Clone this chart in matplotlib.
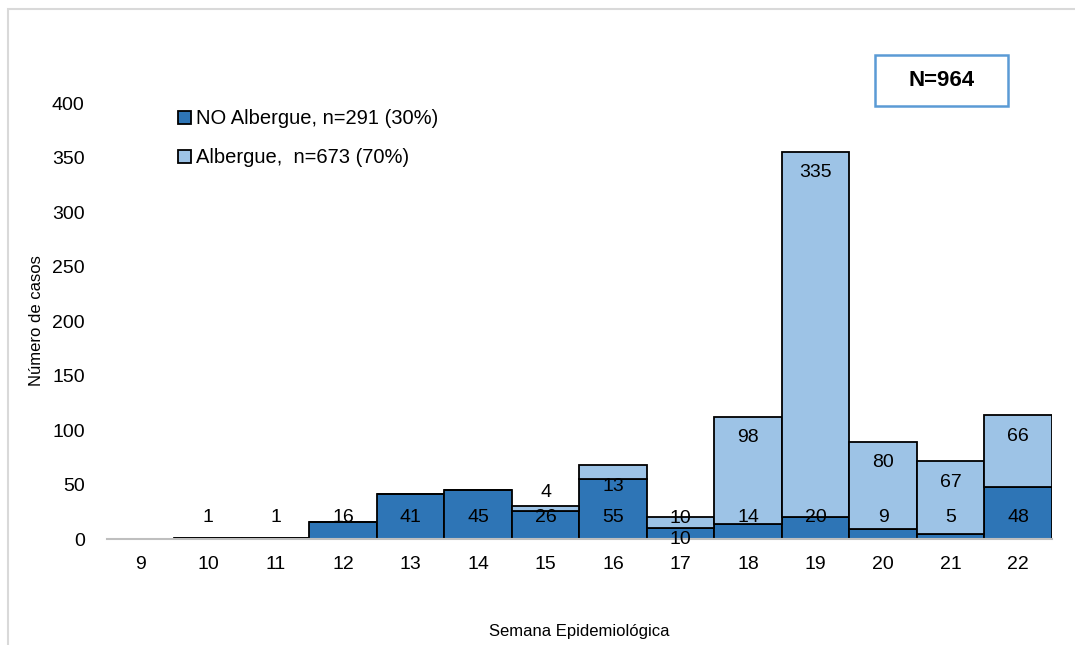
import numpy as np
import matplotlib
matplotlib.use('Agg')
import matplotlib.pyplot as plt
from matplotlib.patches import Rectangle

plt.rcParams['font.family'] = ['Liberation Sans', 'DejaVu Sans']

# datos por semana epidemiológica
semanas = ['9', '10', '11', '12', '13', '14', '15', '16', '17', '18', '19', '20', '21', '22']
no_albergue = [0, 1, 1, 16, 41, 45, 26, 55, 10, 14, 20, 9, 5, 48]
albergue = [0, 0, 0, 0, 0, 0, 4, 13, 10, 98, 335, 80, 67, 66]

# posición (en casos) de cada etiqueta, como en el original
pos_no_alb = [None, 20, 20, 20, 20, 20, 20, 20, 0, 20, 20, 20, 20, 20]
pos_alb = [None, None, None, None, None, None, 43, 48, 19, 93, 336, 70, 52, 94]

c_oscuro = '#2E75B6'
c_claro = '#9DC3E6'

W, H = 1075, 645
fig = plt.figure(figsize=(W / 100, H / 100), dpi=100)
ax = fig.add_axes([0.0995, 0.1643, 0.8791, 0.676])

# marco gris del gráfico
fig.patches.append(Rectangle((8 / W, -0.01), 1.02, 1 - 9 / H + 0.01,
                             transform=fig.transFigure, fill=False,
                             edgecolor='#D9D9D9', lw=1.5))

x = np.arange(len(semanas))
ax.bar(x, no_albergue, width=1.0, color=c_oscuro, edgecolor='black', lw=1.3,
       label='NO Albergue, n=291 (30%)')
ax.bar(x, albergue, width=1.0, bottom=no_albergue, color=c_claro, edgecolor='black',
       lw=1.3, label='Albergue,  n=673 (70%)')

for i in range(len(semanas)):
    if pos_no_alb[i] is not None:
        ax.text(x[i], pos_no_alb[i], str(no_albergue[i]), ha='center', va='center', fontsize=14)
    if pos_alb[i] is not None:
        ax.text(x[i], pos_alb[i], str(albergue[i]), ha='center', va='center', fontsize=14)

ax.set_xlim(-0.5, len(semanas) - 0.5)
ax.set_ylim(0, 400)
ax.set_yticks(np.arange(0, 401, 50))
ax.set_xticks(x)
ax.set_xticklabels(semanas)
ax.tick_params(length=0, labelsize=14)
ax.tick_params(axis='y', pad=16)
ax.tick_params(axis='x', pad=12)
for s in ['top', 'right', 'left']:
    ax.spines[s].set_visible(False)
ax.spines['bottom'].set_color('#BFBFBF')
ax.spines['bottom'].set_linewidth(1.5)

ax.set_ylabel('Número de casos', fontsize=12, labelpad=6)
ax.set_xlabel('Semana Epidemiológica', fontsize=12)
ax.xaxis.set_label_coords(0.5, -0.195)

ax.legend(loc='upper left', bbox_to_anchor=(0.056, 1.027), frameon=False, fontsize=14.5,
          handlelength=0.65, handleheight=0.65, handletextpad=0.25, labelspacing=1.0)

# recuadro N total
fig.patches.append(Rectangle((875 / W, 1 - 106 / H), 133 / W, 51 / H,
                             transform=fig.transFigure, fc='white', ec='#5B9BD5', lw=1.8))
fig.text(941.5 / W, 1 - 80 / H, 'N=964', ha='center', va='center', fontsize=16,
         fontweight='bold')

fig.savefig('out.png', dpi=100)
